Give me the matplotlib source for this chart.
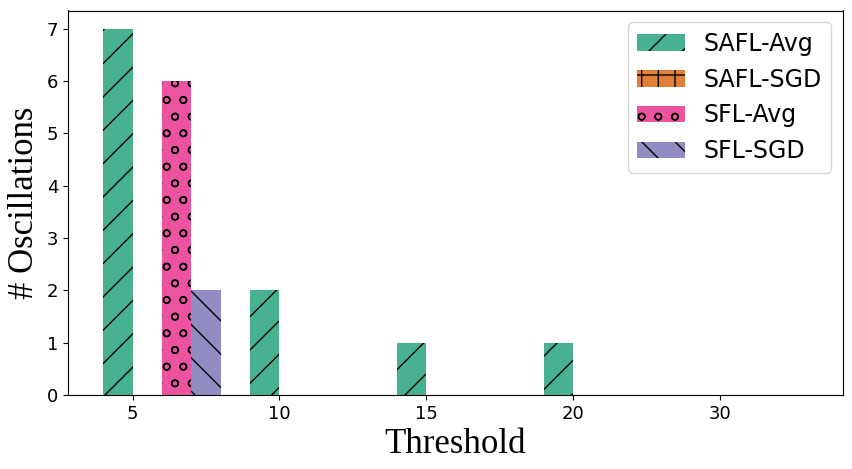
import matplotlib
matplotlib.use("Agg")
import matplotlib.pyplot as plt
import numpy as np

categories = ["5", "10", "15", "20", "30"]
series_names = ["SAFL-Avg", "SAFL-SGD", "SFL-Avg", "SFL-SGD"]
safl_avg = [7, 2, 1, 1, 0]
safl_sgd = [0, 0, 0, 0, 0]
sfl_avg = [6, 0, 0, 0, 0]
sfl_sgd = [2, 0, 0, 0, 0]

values = [safl_avg, safl_sgd, sfl_avg, sfl_sgd]
colors = ["#48B192", "#E07F35", "#EC54A1", "#918DC2"]
hatches = ["/", "+", "o", "\\"]

plt.rcParams["hatch.color"] = "black"
plt.rcParams["hatch.linewidth"] = 1.0

fig = plt.figure(figsize=(8.52, 4.69), dpi=100)
ax = fig.add_axes([68/852, 1 - 395/469, (843-68)/852, (395-10.5)/469])

x = np.arange(len(categories))
w = 0.2
for k, (name, vals) in enumerate(zip(series_names, values)):
    ax.bar(x + (k - 1) * w, vals, width=w, align="edge", facecolor=colors[k],
           hatch=hatches[k], label=name, edgecolor="black", linewidth=0)

ax.set_xticks(x)
ax.set_xticklabels(categories)
ax.tick_params(labelsize=13)
ax.set_xlabel("Threshold", fontsize=25, family="Liberation Serif")
ax.set_ylabel("# Oscillations", fontsize=25, family="Liberation Serif")
ax.legend(fontsize=17, loc="upper right")
fig.savefig("out.png", dpi=100)
